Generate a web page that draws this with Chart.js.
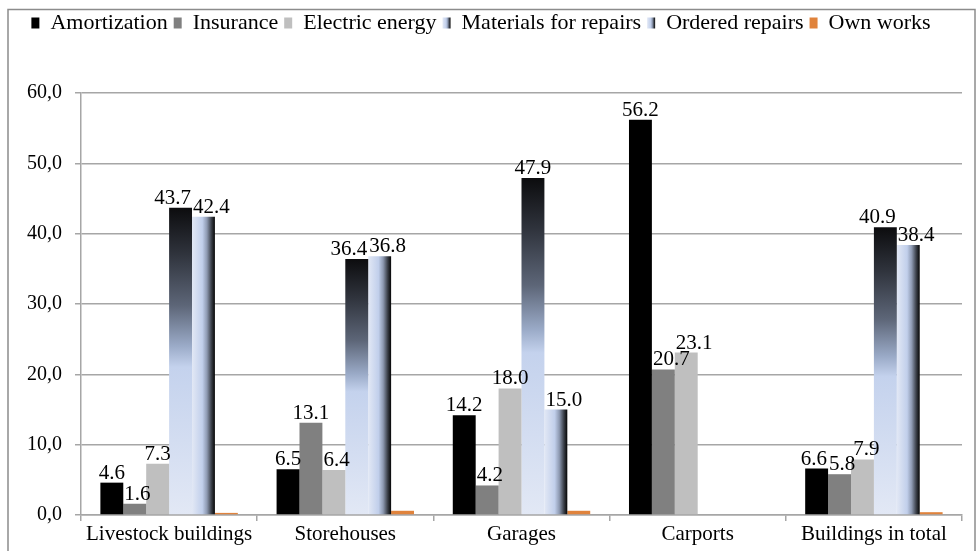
<!DOCTYPE html>
<html>
<head>
<meta charset="utf-8">
<script src="https://cdn.jsdelivr.net/npm/chart.js@4"></script>
<style>
  html, body { margin: 0; padding: 0; background: #fff; }
  #wrap { width: 979px; height: 551px; }
</style>
</head>
<body>
<div id="wrap"><canvas id="chart" width="979" height="551"></canvas></div>
<script>
// data
const categories = ['Livestock buildings', 'Storehouses', 'Garages', 'Carports', 'Buildings in total'];
const seriesNames = ['Amortization', 'Insurance', 'Electric energy', 'Materials for repairs', 'Ordered repairs', 'Own works'];
const amortization = [4.6, 6.5, 14.2, 56.2, 6.6];
const insurance = [1.6, 13.1, 4.2, 20.7, 5.8];
const electricEnergy = [7.3, 6.4, 18.0, 23.1, 7.9];
const materialsForRepairs = [43.7, 36.4, 47.9, null, 40.9];
const orderedRepairs = [42.4, 36.8, 15.0, null, 38.4];
const ownWorks = [0.3, 0.6, 0.6, null, 0.4];
const yTicks = [0, 10, 20, 30, 40, 50, 60];

const FONT = 'Liberation Serif';
const gridColor = '#a6a6a6';

// vertical gradient for "Materials for repairs" (dark top -> light blue -> pale)
function materialsGradient(ctx, top, bottom) {
  const g = ctx.createLinearGradient(0, top, 0, bottom);
  g.addColorStop(0, '#0c0c0e');
  g.addColorStop(0.15, '#2f333c');
  g.addColorStop(0.32, '#5d6678');
  g.addColorStop(0.45, '#9aaac7');
  g.addColorStop(0.52, '#c4d2ed');
  g.addColorStop(1, '#e2e8f5');
  return g;
}

// horizontal gradient for "Ordered repairs" (pale left -> dark right)
function orderedGradient(ctx, left, right) {
  const g = ctx.createLinearGradient(left, 0, right, 0);
  g.addColorStop(0, '#e2e8f5');
  g.addColorStop(0.45, '#c1cfeb');
  g.addColorStop(0.65, '#8e9ab2');
  g.addColorStop(0.85, '#3a3f48');
  g.addColorStop(1, '#050505');
  return g;
}

// paint gradients onto the bar elements after layout
const gradientBars = {
  id: 'gradientBars',
  beforeDatasetsDraw(chart) {
    const ctx = chart.ctx;
    chart.getDatasetMeta(3).data.forEach(el => {
      el.options.backgroundColor = materialsGradient(ctx, el.y, el.base);
    });
    chart.getDatasetMeta(4).data.forEach(el => {
      el.options.backgroundColor = orderedGradient(ctx, el.x - el.width / 2, el.x + el.width / 2);
    });
  },
  beforeDraw(chart) {
    const lg = chart.legend;
    if (!lg || !lg.legendHitBoxes) return;
    const ctx = chart.ctx;
    const bw = lg.options.labels.boxWidth;
    [3, 4].forEach(i => {
      const hb = lg.legendHitBoxes[i];
      if (hb) lg.legendItems[i].fillStyle = orderedGradient(ctx, hb.left, hb.left + bw);
    });
  }
};

// value labels above bars (not for Own works), nudged apart when they collide
const valueLabels = {
  id: 'valueLabels',
  afterDatasetsDraw(chart) {
    const ctx = chart.ctx;
    const size = 21;
    ctx.save();
    ctx.font = size + 'px "' + FONT + '"';
    ctx.fillStyle = '#000';
    ctx.textAlign = 'center';
    ctx.textBaseline = 'bottom';
    chart.data.labels.forEach((c, i) => {
      const boxes = [];
      chart.data.datasets.forEach((ds, di) => {
        if (di === 5) return;
        const v = ds.data[i];
        if (v === null || v === undefined) return;
        const el = chart.getDatasetMeta(di).data[i];
        const txt = v.toFixed(1);
        boxes.push({ txt, di, x: el.x, y: el.y + 1, w: ctx.measureText(txt).width });
      });
      // labels that collide with each other
      for (let k = 0; k < boxes.length - 1; k++) {
        const a = boxes[k], b = boxes[k + 1];
        const overlapX = (a.w + b.w) / 2 + 2 - (b.x - a.x);
        if (overlapX > 0 && Math.abs(a.y - b.y) < size * 0.9) {
          a.x -= overlapX / 2;
          b.x += overlapX / 2;
        }
      }
      // labels running into a taller bar on their left
      boxes.forEach(b => {
        if (b.di === 0) return;
        const left = chart.getDatasetMeta(b.di - 1).data[i];
        if (!left || chart.data.datasets[b.di - 1].data[i] == null) return;
        if (left.y < b.y - 4) {
          const over = (left.x + left.width / 2) - (b.x - b.w / 2);
          if (over > 0) b.x += over + 1;
        }
      });
      boxes.forEach(b => ctx.fillText(b.txt, b.x, b.y));
    });
    ctx.restore();
  }
};

// outer frame
const frame = {
  id: 'frame',
  beforeDraw(chart) {
    const ctx = chart.ctx;
    ctx.save();
    ctx.fillStyle = '#fff';
    ctx.fillRect(0, 0, chart.width, chart.height);
    ctx.strokeStyle = '#8c8c8c';
    ctx.lineWidth = 1.5;
    ctx.strokeRect(8, 9.5, 967, 545);
    ctx.restore();
  }
};

// make room between legend and plot
const legendSpace = {
  id: 'legendSpace',
  beforeInit(chart) {
    const fit = chart.legend.fit;
    chart.legend.fit = function () {
      fit.bind(chart.legend)();
      this.height = 87;
    };
  }
};

const colors = ['#000000', '#808080', '#bfbfbf', '#c4d2ed', '#c4d2ed', '#e0833c'];
const values = [amortization, insurance, electricEnergy, materialsForRepairs, orderedRepairs, ownWorks];

const datasets = seriesNames.map((name, i) => ({
  label: name,
  data: values[i],
  backgroundColor: () => colors[i],
  borderWidth: 0,
  categoryPercentage: 0.78,
  barPercentage: 1
}));

new Chart(document.getElementById('chart'), {
  type: 'bar',
  data: { labels: categories, datasets },
  options: {
    responsive: false,
    animation: false,
    events: [],
    layout: { padding: { top: 6, right: 17, bottom: 0, left: 0 } },
    plugins: {
      legend: {
        position: 'top',
        labels: {
          boxWidth: 8,
          boxHeight: 11,
          padding: 6,
          color: '#000',
          font: { family: FONT, size: 22 }
        }
      },
      tooltip: { enabled: false }
    },
    scales: {
      x: {
        afterFit: s => { s.height = 36; },
        grid: { drawOnChartArea: false, tickLength: 6, color: gridColor, lineWidth: 1.5 },
        border: { color: gridColor, width: 1.5 },
        ticks: { color: '#000', font: { family: FONT, size: 21 }, padding: 1 }
      },
      y: {
        min: 0,
        max: 60,
        afterFit: s => { s.width = 81; },
        afterBuildTicks: s => { s.ticks = yTicks.map(v => ({ value: v })); },
        grid: { color: gridColor, lineWidth: 1.5, tickLength: 6 },
        border: { color: gridColor, width: 1.5 },
        ticks: {
          color: '#000',
          padding: 13,
          font: { family: FONT, size: 20 },
          callback: v => v.toFixed(1).replace('.', ',')
        }
      }
    }
  },
  plugins: [frame, legendSpace, gradientBars, valueLabels]
});
</script>
</body>
</html>
